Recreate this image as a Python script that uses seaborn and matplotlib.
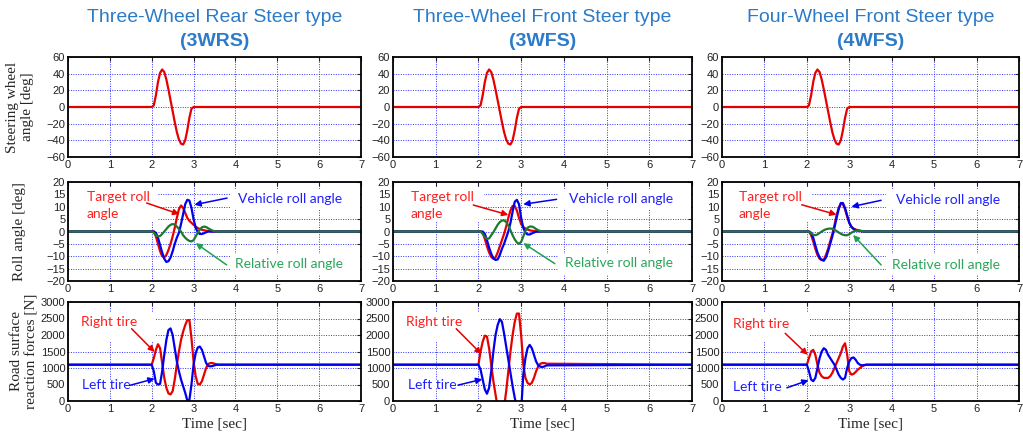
import numpy as np
import pandas as pd
import seaborn as sns
from matplotlib import pyplot as plt
from matplotlib.patches import Rectangle

# time axis [sec]: flat before 2 s and after 3.6 s
t = [0, 2.00, 2.05, 2.10, 2.15, 2.20, 2.25, 2.30, 2.35, 2.40, 2.45, 2.50, 2.55, 2.60, 2.65,
     2.70, 2.75, 2.80, 2.85, 2.90, 2.95, 3.00, 3.05, 3.10, 3.15, 3.20, 3.25, 3.30, 3.35, 3.40,
     3.45, 3.50, 3.55, 3.60, 7.0]

# steering wheel angle [deg] (same input for all three vehicles)
steer = [0, 0, 2, 14, 30, 41, 45, 42, 33, 21, 8, -5, -18, -30, -39, -44, -45, -40, -28, -13,
         -2, 0, 0, 0, 0, 0, 0, 0, 0, 0, 0, 0, 0, 0, 0]

# roll angle [deg]
target_3wrs = [0, 0, 0, -2, -5, -8, -10, -10.5, -9.5, -7.5, -5, -2, 1.5, 5.5, 9, 10.5, 9.5, 7.5,
               5.5, 4.3, 3.5, 2.7, 2, 1.4, 1, 0.7, 0.5, 0.3, 0.2, 0.1, 0, 0, 0, 0, 0]
vehicle_3wrs = [0, 0, 0, -0.5, -2.5, -5.5, -8.5, -11, -12.3, -12, -10.5, -8, -5, -2.5, -0.5, 3, 7,
                11, 12.8, 12.5, 9.5, 5, 1.5, -0.3, -1, -1, -0.7, -0.3, 0, 0, 0, 0, 0, 0, 0]
relative_3wrs = [0, 0, -0.5, -1.5, -2, -1.8, -1, 0, 1, 2, 2.7, 3, 2.8, 2, 1, 0, -1.5, -2.5, -3.3,
                 -3.8, -4, -3.5, -2, -0.5, 0.8, 1.7, 2, 1.8, 1.3, 0.8, 0.4, 0.1, 0, 0, 0]

target_3wfs = [0, 0, 0, -0.5, -3, -6, -8.5, -10.3, -11, -10.5, -8.5, -6, -3.5, -1, 2, 5.5, 8.5,
               10.3, 10.3, 8.5, 5.5, 3, 1.8, 1.2, 0.8, 0.5, 0.3, 0.2, 0.1, 0, 0, 0, 0, 0, 0]
vehicle_3wfs = [0, 0, 0, 0, -1, -3.5, -6.5, -9, -10.8, -11.5, -11.3, -9.5, -7, -5, -2.5, 0, 3.5,
                8, 12, 12.8, 11, 5.5, 1.5, -0.5, -1.2, -1.2, -0.8, -0.4, -0.1, 0, 0, 0, 0, 0, 0]
relative_3wfs = [0, 0, 0, -1, -2.2, -3, -2.8, -1.5, -0.3, 1.2, 2.7, 3.8, 4.4, 4.5, 3.8, 2.5, 0.5,
                 -1.5, -3.2, -4.4, -5, -4.2, -2, 0.2, 1.5, 2, 2, 1.6, 1, 0.5, 0.2, 0, 0, 0, 0]

target_4wfs = [0, 0, 0, -1.5, -4, -7, -9.5, -11, -11.5, -11.3, -9.5, -7, -4, -1, 2.5, 6.5, 9.5,
               11.2, 11, 9, 6, 3.5, 2, 1.2, 0.8, 0.5, 0.3, 0.1, 0, 0, 0, 0, 0, 0, 0]
vehicle_4wfs = [0, 0, 0, -0.5, -2.5, -5.5, -8.5, -10.5, -11.5, -11.8, -10.5, -8, -5, -2, 1.5, 5.5,
                9, 11.5, 11.5, 9.5, 6.5, 3.5, 1.8, 1, 0.6, 0.4, 0.2, 0.1, 0, 0, 0, 0, 0, 0, 0]
relative_4wfs = [0, 0, 0, -0.7, -1.3, -1.5, -1.2, -0.6, 0, 0.5, 0.9, 1.1, 1.2, 1.1, 0.7, 0.2, -0.4,
                 -0.9, -1.3, -1.5, -1.5, -1.1, -0.5, 0, 0.3, 0.4, 0.3, 0.2, 0.1, 0, 0, 0, 0, 0, 0]

# road surface reaction forces [N]
right_3wrs = [1100, 1100, 1300, 1550, 1720, 1600, 1150, 700, 400, 230, 200, 300, 650, 1100, 1500,
              1850, 2100, 2300, 2450, 2450, 1900, 1200, 750, 520, 500, 600, 800, 1000, 1120, 1150,
              1150, 1130, 1110, 1100, 1100]
left_3wrs = [1100, 1100, 900, 550, 500, 520, 900, 1400, 1850, 2150, 2200, 2000, 1600, 1200, 900,
             650, 450, 250, 20, 30, 500, 1100, 1450, 1620, 1650, 1550, 1350, 1150, 1060, 1050,
             1060, 1080, 1100, 1100, 1100]

right_3wfs = [1100, 1100, 1500, 1800, 1980, 1950, 1600, 1100, 600, 200, -200, -400, -400, -200,
              300, 900, 1500, 2000, 2400, 2650, 2650, 2000, 1100, 700, 550, 500, 550, 700, 900,
              1050, 1130, 1150, 1150, 1130, 1100]
left_3wfs = [1100, 1100, 950, 650, 350, 220, 400, 900, 1500, 2000, 2300, 2480, 2400, 2050, 1650,
             1250, 850, 450, 100, -200, -400, -300, 800, 1300, 1600, 1700, 1600, 1400, 1200, 1080,
             1040, 1030, 1050, 1080, 1100]

right_4wfs = [1100, 1100, 1300, 1500, 1550, 1400, 1100, 850, 750, 700, 700, 700, 750, 850, 1000,
              1150, 1300, 1450, 1650, 1750, 1400, 900, 800, 820, 880, 950, 1000, 1050, 1080, 1100,
              1100, 1100, 1100, 1100, 1100]
left_4wfs = [1100, 1100, 900, 650, 600, 700, 1000, 1300, 1500, 1600, 1550, 1400, 1300, 1200, 1100,
             950, 800, 700, 650, 700, 1000, 1200, 1300, 1320, 1250, 1150, 1100, 1080, 1090, 1100,
             1100, 1100, 1100, 1100, 1100]

titles = ["Three-Wheel Rear Steer type", "Three-Wheel Front Steer type", "Four-Wheel Front Steer type"]
codes = ["(3WRS)", "(3WFS)", "(4WFS)"]
roll_data = [(target_3wrs, vehicle_3wrs, relative_3wrs),
             (target_3wfs, vehicle_3wfs, relative_3wfs),
             (target_4wfs, vehicle_4wfs, relative_4wfs)]
force_data = [(right_3wrs, left_3wrs), (right_3wfs, left_3wfs), (right_4wfs, left_4wfs)]

# annotation layout per column: (text pos, arrow tail, arrow head)
roll_notes = [
    {"target": ((0.45, 10.5), (1.88, 11.5), (2.66, 7.0)),
     "vehicle": ((4.06, 13.0), (3.8, 13.5), (3.02, 10.8)),
     "relative": ((4.0, -13.2), (3.79, -13.5), (3.05, -4.7))},
    {"target": ((0.41, 10.5), (1.88, 10.7), (2.7, 6.7)),
     "vehicle": ((4.13, 13.2), (3.83, 13.0), (3.05, 11.0)),
     "relative": ((4.02, -12.8), (3.79, -13.0), (3.05, -4.7))},
    {"target": ((0.39, 10.5), (1.88, 10.8), (2.7, 6.8)),
     "vehicle": ((4.1, 12.6), (3.75, 12.6), (3.05, 10.0)),
     "relative": ((4.0, -13.5), (3.75, -13.5), (3.09, -1.4))},
]
force_notes = [
    {"right": ((0.31, 2400), (1.52, 2190), (2.07, 1485)),
     "left": ((0.34, 495), (1.48, 475), (2.07, 677))},
    {"right": ((0.31, 2400), (1.48, 2190), (2.07, 1420)),
     "left": ((0.34, 480), (1.52, 480), (2.09, 660))},
    {"right": ((0.27, 2320), (1.49, 2050), (2.02, 1400)),
     "left": ((0.27, 420), (1.53, 400), (2.04, 630))},
]

RED, BLUE, GREEN = "#e60000", "#0000ee", "#1d7a2c"
RED_TXT, BLUE_TXT, GREEN_TXT = "#ff2020", "#2020ff", "#2ca55a"
TITLE_C = "#2b7bc8"

sns.set_style("white")
plt.rcParams['font.family'] = ['Liberation Sans', 'DejaVu Sans']
SERIF = ['Liberation Serif', 'DejaVu Serif']
NOTE = ['Lato', 'DejaVu Sans']

W, H = 1023, 437
fig = plt.figure(figsize=(W / 100, H / 100), dpi=100)
lefts = [68, 393, 722]
rights = [361, 692, 1019]
rows = [(57, 157), (182, 281), (302, 401)]


def make_ax(c, r):
    top, bot = rows[r]
    ax = fig.add_axes([lefts[c] / W, 1 - bot / H, (rights[c] - lefts[c]) / W, (bot - top) / H])
    ax.set_axisbelow(True)
    ax.grid(True, color="#3030ff", linestyle=(0, (1, 1.5)), linewidth=0.7)
    ax.set_xlim(0, 7)
    ax.set_xticks(range(8))
    ax.tick_params(direction="in", top=True, right=True, length=3, labelsize=8,
                   labelcolor="#222222", pad=2)
    for s in ax.spines.values():
        s.set_color("black")
        s.set_linewidth(1.3)
    ax.set_xlabel("")
    ax.set_ylabel("")
    return ax


def mask(ax, x, y, w, h):
    ax.add_patch(Rectangle((x, y), w, h, facecolor="white", edgecolor="none", zorder=1))


def note(ax, txt, spec, tcol, acol):
    (tx, ty), tail, head = spec
    ax.text(tx, ty, txt, color=tcol, fontsize=10, family=NOTE, va="center", ha="left", zorder=4,
            linespacing=1.5)
    ax.annotate("", xy=head, xytext=tail,
                arrowprops=dict(arrowstyle="-|>", color=acol, lw=1.1, mutation_scale=9,
                                shrinkA=0, shrinkB=0), zorder=4)


for c in range(3):
    cx = (lefts[c] + rights[c]) / 2 / W
    fig.text(cx, 1 - 17 / H, titles[c], ha="center", va="center", fontsize=14, color=TITLE_C)
    fig.text(cx, 1 - 41 / H, codes[c], ha="center", va="center", fontsize=14, color=TITLE_C,
             fontweight="bold")

    # steering wheel angle
    ax = make_ax(c, 0)
    sns.lineplot(x=t, y=steer, color=RED, lw=1.6, ax=ax, estimator=None, sort=False)
    ax.set_ylim(-60, 60)
    ax.set_yticks(range(-60, 61, 20))

    # roll angle
    ax = make_ax(c, 1)
    tgt, veh, rel = roll_data[c]
    df = pd.DataFrame({"t": t, "target": tgt, "vehicle": veh, "relative": rel})
    sns.lineplot(data=df, x="t", y="target", color=RED, lw=1.6, ax=ax, estimator=None, sort=False)
    sns.lineplot(data=df, x="t", y="vehicle", color=BLUE, lw=1.6, ax=ax, estimator=None, sort=False)
    sns.lineplot(data=df, x="t", y="relative", color=GREEN, lw=1.6, ax=ax, estimator=None, sort=False)
    ax.set_ylim(-20, 20)
    ax.set_yticks(range(-20, 21, 5))
    ax.set_xlabel("")
    ax.set_ylabel("")
    mask(ax, 0.02, 4, 2.1, 13.5)
    mask(ax, 3.87, 8.5, 3.1, 8.5)
    mask(ax, 3.87, -17.5, 3.1, 8.5)
    n = roll_notes[c]
    note(ax, "Target roll\nangle", n["target"], RED_TXT, RED)
    note(ax, "Vehicle roll angle", n["vehicle"], BLUE_TXT, BLUE)
    note(ax, "Relative roll angle", n["relative"], GREEN_TXT, "#22a050")

    # road surface reaction forces
    ax = make_ax(c, 2)
    rt, lt = force_data[c]
    df = pd.DataFrame({"t": t, "right": rt, "left": lt})
    sns.lineplot(data=df, x="t", y="right", color=RED, lw=1.6, ax=ax, estimator=None, sort=False)
    sns.lineplot(data=df, x="t", y="left", color=BLUE, lw=1.6, ax=ax, estimator=None, sort=False)
    ax.set_ylim(0, 3000)
    ax.set_yticks(range(0, 3001, 500))
    ax.set_ylabel("")
    ax.set_xlabel("Time [sec]", family=SERIF, fontsize=11, labelpad=3)
    mask(ax, 0.02, 1800, 2.05, 900)
    mask(ax, 0.02, 380, 1.5, 230)
    n = force_notes[c]
    note(ax, "Right tire", n["right"], RED_TXT, RED)
    note(ax, "Left tire", n["left"], BLUE_TXT, BLUE)

# y labels on the first column
fig.text(20 / W, 1 - 107 / H, "Steering wheel\nangle [deg]", rotation=90, ha="center", va="center",
         family=SERIF, fontsize=11, linespacing=1.2)
fig.text(20 / W, 1 - 232 / H, "Roll angle [deg]", rotation=90, ha="center", va="center",
         family=SERIF, fontsize=11)
fig.text(24 / W, 1 - 351 / H, "Road surface\nreaction forces [N]", rotation=90, ha="center",
         va="center", family=SERIF, fontsize=11, linespacing=1.2)

fig.savefig("out.png", dpi=100)
